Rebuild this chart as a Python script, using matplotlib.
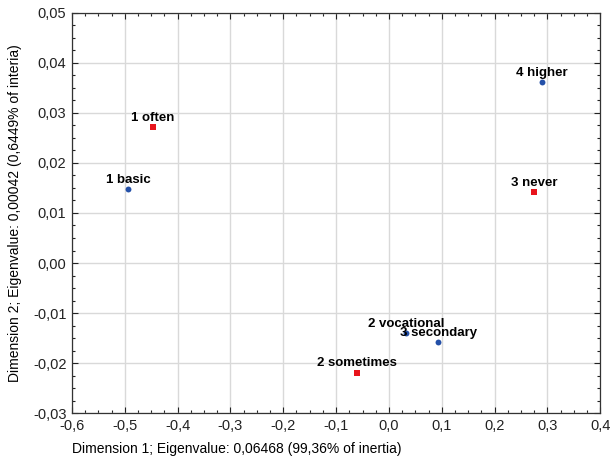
import matplotlib
matplotlib.use('Agg')
import matplotlib.pyplot as plt
from matplotlib.ticker import MultipleLocator, FuncFormatter

plt.rcParams['font.family'] = ['Liberation Sans', 'DejaVu Sans']

# Punkty wierszy (wykształcenie) - niebieskie kółka
row_labels = ['1 basic', '2 vocational', '3 secondary', '4 higher']
row_x = [-0.494, 0.032, 0.0935, 0.29]
row_y = [0.0148, -0.0140, -0.0158, 0.0362]

# Punkty kolumn (częstotliwość) - czerwone kwadraty
col_labels = ['1 often', '2 sometimes', '3 never']
col_x = [-0.447, -0.060, 0.275]
col_y = [0.0272, -0.0219, 0.0142]

fig = plt.figure(figsize=(6.10, 4.59), dpi=100)
ax = fig.add_axes([0.118, 0.1002, 0.866, 0.8715])

ax.scatter(row_x, row_y, marker='o', s=18, color='#2450a8', zorder=3, linewidths=0)
ax.scatter(col_x, col_y, marker='s', s=20, color='#e8141c', zorder=3, linewidths=0)

for lab, x, y in zip(row_labels, row_x, row_y):
    ax.annotate(lab, (x, y), xytext=(0, 2.5), textcoords='offset points',
                ha='center', va='bottom', fontsize=9.5, fontweight='bold', zorder=4)
for lab, x, y in zip(col_labels, col_x, col_y):
    ax.annotate(lab, (x, y), xytext=(0, 2.5), textcoords='offset points',
                ha='center', va='bottom', fontsize=9.5, fontweight='bold', zorder=4)

ax.set_xlim(-0.6, 0.4)
ax.set_ylim(-0.03, 0.05)
ax.xaxis.set_major_locator(MultipleLocator(0.1))
ax.xaxis.set_minor_locator(MultipleLocator(0.025))
ax.yaxis.set_major_locator(MultipleLocator(0.01))
ax.yaxis.set_minor_locator(MultipleLocator(0.0025))

ax.xaxis.set_major_formatter(FuncFormatter(lambda v, p: f'{v:.1f}'.replace('.', ',').replace('-0,0', '0,0')))
ax.yaxis.set_major_formatter(FuncFormatter(lambda v, p: f'{v:.2f}'.replace('.', ',').replace('-0,00', '0,00')))

ax.tick_params(which='both', direction='in', top=True, right=True, labelsize=10.5, colors='#222222')
ax.tick_params(which='major', length=4, width=0.8, pad=4)
ax.tick_params(which='minor', length=2, width=0.8)
ax.grid(True, which='major', color='#d9d9d9', linewidth=1)
ax.set_axisbelow(True)
for s in ax.spines.values():
    s.set_color('#333333')
    s.set_linewidth(0.9)

ax.set_xlabel('Dimension 1; Eigenvalue: 0,06468 (99,36% of inertia)', fontsize=10, labelpad=7, loc='left')
ax.set_ylabel('Dimension 2; Eigenvalue: 0,00042 (0,6449% of interia)', fontsize=10, labelpad=8)

fig.savefig('out.png', dpi=100)
